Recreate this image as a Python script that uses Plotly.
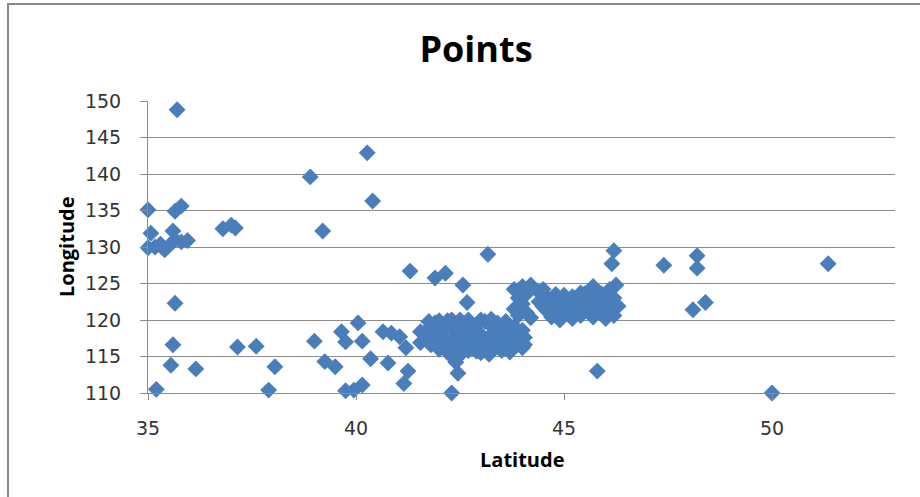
import plotly.graph_objects as go

# Station coordinates: latitude (x) and longitude (y)
latitude = [
    # western / southern outliers
    35.0, 35.7, 35.65, 35.8, 35.07, 35.6, 35.0, 35.17, 35.4, 35.6, 35.8, 35.65, 35.3, 35.95,
    36.8, 37.0, 37.1, 35.65, 35.6, 37.15, 35.55, 36.15, 35.2, 37.6, 38.05, 37.9,
    38.9, 40.27, 40.4, 39.2, 41.3, 39.0, 39.25, 39.5, 39.65, 39.75, 40.05, 40.15,
    40.35, 40.65, 40.77, 40.85, 41.05, 41.2, 41.25, 41.15, 41.55, 41.55, 39.75, 39.95,
    40.15, 43.17, 41.9, 42.15, 42.57, 42.67, 42.45, 42.3, 45.8, 46.2, 46.15, 47.4,
    48.2, 48.2, 51.35, 48.1, 48.4, 50.0, 42.4,
    # central cluster
    41.65, 41.7, 41.8, 41.8, 41.9, 41.9, 42.0, 42.0, 42.1, 42.1, 42.2, 42.2, 42.3, 42.3,
    42.4, 42.4, 42.4, 42.5, 42.5, 42.5, 42.6, 42.6, 42.7, 42.7, 42.7, 42.8, 42.8, 42.9,
    42.9, 43.0, 43.0, 43.1, 43.1, 43.2, 43.2, 43.3, 43.3, 43.4, 43.4, 43.5, 43.5, 43.6,
    43.6, 43.7, 43.7, 43.8, 43.8, 43.9, 43.9, 44.0, 44.0, 41.75, 42.0, 42.2, 43.0, 42.9,
    42.3, 42.05, 42.6, 43.25, 41.95, 42.35, 42.75, 43.15, 43.45, 43.65, 42.55, 42.85,
    # rising arm
    43.8, 43.8, 43.9, 44.0, 44.0, 44.1, 44.1, 44.2, 44.2, 43.9, 44.05, 44.05,
    # north-eastern cluster
    44.4, 44.4, 44.5, 44.6, 44.6, 44.7, 44.7, 44.8, 44.9, 44.9, 45.0, 45.0, 45.1, 45.1,
    45.2, 45.2, 45.3, 45.3, 45.4, 45.4, 45.5, 45.5, 45.6, 45.6, 45.7, 45.7, 45.8, 45.8,
    45.9, 45.9, 46.0, 46.0, 46.1, 46.1, 46.2, 46.2, 46.25, 46.3, 44.5, 45.0, 45.6,
    44.75, 45.25, 45.85, 46.15,
]
longitude = [
    135.1, 148.8, 134.9, 135.6, 131.9, 132.2, 129.9, 130.0, 129.6, 130.7, 130.7, 131.0, 130.4, 130.9,
    132.5, 133.0, 132.6, 122.3, 116.6, 116.3, 113.8, 113.3, 110.5, 116.4, 113.6, 110.4,
    139.6, 142.9, 136.3, 132.2, 126.7, 117.1, 114.3, 113.6, 118.4, 117.0, 119.6, 117.1,
    114.7, 118.4, 114.1, 118.2, 117.7, 116.2, 113.0, 111.3, 118.4, 116.9, 110.3, 110.4,
    111.1, 129.0, 125.75, 126.4, 124.8, 122.4, 112.7, 110.0, 113.0, 129.5, 127.7, 127.5,
    128.8, 127.1, 127.7, 121.4, 122.4, 110.0, 114.2,
    118.3, 117.2, 119.0, 116.6, 118.0, 119.6, 117.4, 116.0, 119.3, 118.5, 117.0, 115.6, 120.0, 118.8,
    116.5, 117.8, 119.5, 115.2, 118.2, 120.0, 116.8, 119.0, 117.5, 115.8, 120.0, 118.6, 116.3, 119.4,
    117.1, 115.5, 118.0, 119.8, 116.6, 117.6, 115.3, 118.9, 116.0, 117.2, 119.6, 115.8, 118.3, 116.7,
    119.8, 117.8, 115.6, 119.1, 116.3, 118.2, 117.0, 116.2, 118.6, 119.8, 119.9, 119.9, 120.0, 115.7,
    115.0, 117.0, 118.0, 120.1, 116.8, 116.9, 118.9, 117.4, 116.5, 118.8, 117.3, 117.6,
    121.5, 124.2, 123.0, 122.2, 124.6, 121.0, 123.6, 120.3, 124.8, 120.6, 117.6, 116.6,
    123.8, 122.5, 124.2, 121.2, 123.0, 122.0, 120.4, 123.5, 121.5, 120.0, 122.6, 123.4, 120.8, 121.9,
    123.2, 120.2, 122.4, 121.2, 123.7, 120.6, 122.0, 123.6, 121.0, 123.0, 124.6, 120.4, 122.3, 121.6,
    123.6, 120.9, 122.8, 120.2, 121.5, 124.2, 123.0, 120.6, 124.8, 121.9, 121.8, 121.3, 122.5,
    121.3, 122.0, 122.9, 122.3,
]

x_ticks = [35, 40, 45, 50]
y_ticks = [110, 115, 120, 125, 130, 135, 140, 145, 150]

# plot-area geometry in pixels (used for paper-coordinate conversion)
W, H = 920, 497
L, R, T, B = 148, 895, 101, 393
pw, ph = R - L, B - T


def px(xp):
    return (xp - L) / pw


def py(yp):
    return (B - yp) / ph


blue = "#4A7EBB"
grid = "#8C8C8C"
tickfont = dict(family="DejaVu Sans", size=19, color="#333333")

fig = go.Figure(
    go.Scatter(
        x=latitude,
        y=longitude,
        mode="markers",
        marker=dict(symbol="diamond", size=13, color=blue, line=dict(width=0)),
        cliponaxis=False,
    )
)

fig.update_layout(
    width=W,
    height=H,
    margin=dict(l=L, r=W - R, t=T, b=H - B, pad=0),
    paper_bgcolor="white",
    plot_bgcolor="white",
    showlegend=False,
    title=dict(
        text="<b>Points</b>",
        font=dict(family="Open Sans", size=36, color="black"),
        x=476 / W,
        xanchor="center",
        y=1 - 49 / H,
        yanchor="middle",
        xref="container",
        yref="container",
    ),
    xaxis=dict(
        range=[35, 35 + pw / 41.6],
        tickvals=x_ticks,
        ticktext=[str(v) for v in x_ticks],
        tickfont=tickfont,
        showgrid=False,
        zeroline=False,
        showline=True,
        linecolor=grid,
        linewidth=1,
        ticks="outside",
        ticklen=6,
        tickcolor=grid,
        ticklabelstandoff=12,
    ),
    yaxis=dict(
        range=[110, 150],
        tickvals=y_ticks,
        ticktext=[str(v) for v in y_ticks],
        tickfont=tickfont,
        showgrid=True,
        gridcolor=grid,
        gridwidth=1,
        zeroline=False,
        showline=True,
        linecolor=grid,
        linewidth=1,
        ticks="outside",
        ticklen=7,
        tickcolor=grid,
        ticklabelstandoff=15,
    ),
    annotations=[
        dict(
            text="<b>Latitude</b>",
            xref="paper", yref="paper",
            x=0.5, y=py(459),
            xanchor="center", yanchor="middle",
            showarrow=False,
            font=dict(family="Open Sans", size=20, color="black"),
        ),
        dict(
            text="<b>Longitude</b>",
            xref="paper", yref="paper",
            x=px(66), y=0.5,
            xanchor="center", yanchor="middle",
            textangle=-90,
            showarrow=False,
            font=dict(family="Open Sans", size=20, color="black"),
        ),
    ],
    shapes=[
        dict(
            type="rect",
            xref="paper", yref="paper",
            x0=px(8), x1=px(930), y0=py(510), y1=py(4),
            line=dict(color="#888888", width=2),
            fillcolor="rgba(0,0,0,0)",
            layer="below",
        )
    ],
)

fig.write_html("out.html")
